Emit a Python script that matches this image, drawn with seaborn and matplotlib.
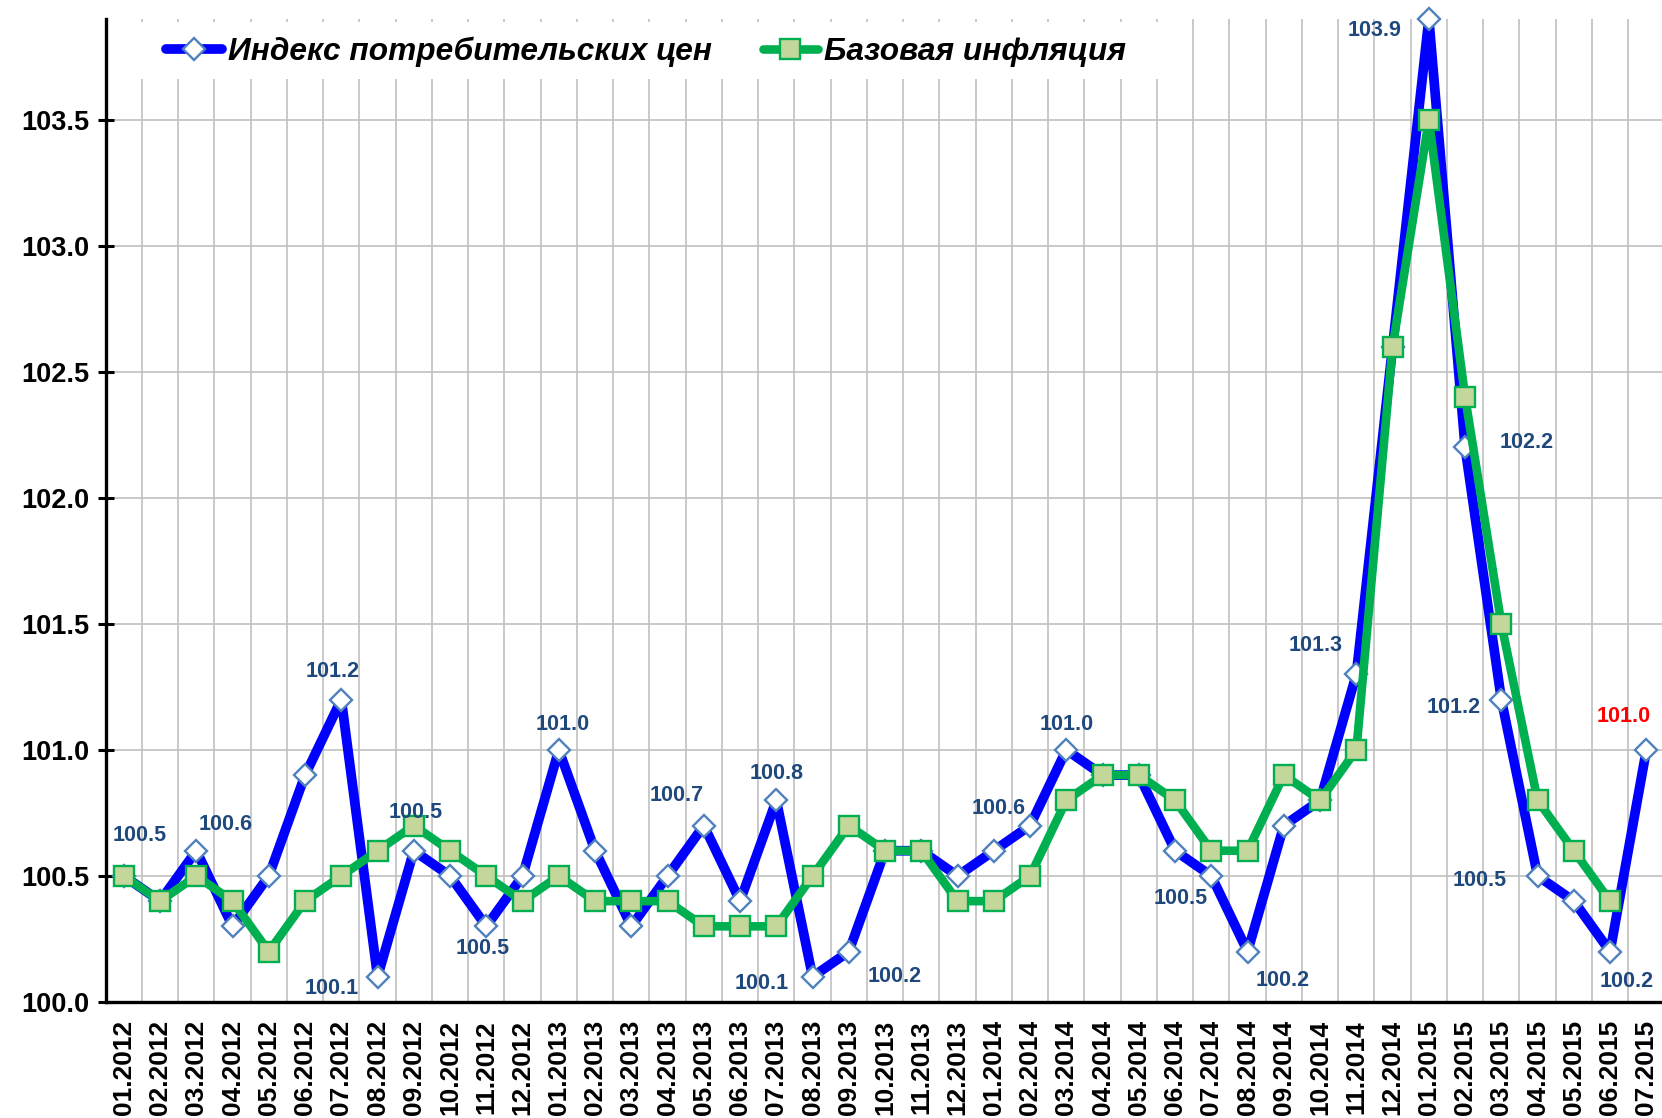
import numpy as np
import pandas as pd
import matplotlib
matplotlib.use("Agg")
import matplotlib.pyplot as plt
from matplotlib.patches import Rectangle
from matplotlib.lines import Line2D
import seaborn as sns

# ---------------- data ----------------
months = ["01.2012", "02.2012", "03.2012", "04.2012", "05.2012", "06.2012", "07.2012",
          "08.2012", "09.2012", "10.2012", "11.2012", "12.2012",
          "01.2013", "02.2013", "03.2013", "04.2013", "05.2013", "06.2013", "07.2013",
          "08.2013", "09.2013", "10.2013", "11.2013", "12.2013",
          "01.2014", "02.2014", "03.2014", "04.2014", "05.2014", "06.2014", "07.2014",
          "08.2014", "09.2014", "10.2014", "11.2014", "12.2014",
          "01.2015", "02.2015", "03.2015", "04.2015", "05.2015", "06.2015", "07.2015"]

cpi = [100.5, 100.4, 100.6, 100.3, 100.5, 100.9, 101.2, 100.1, 100.6, 100.5, 100.3, 100.5,
       101.0, 100.6, 100.3, 100.5, 100.7, 100.4, 100.8, 100.1, 100.2, 100.6, 100.6, 100.5,
       100.6, 100.7, 101.0, 100.9, 100.9, 100.6, 100.5, 100.2, 100.7, 100.8, 101.3, 102.6,
       103.9, 102.2, 101.2, 100.5, 100.4, 100.2, 101.0]

core = [100.5, 100.4, 100.5, 100.4, 100.2, 100.4, 100.5, 100.6, 100.7, 100.6, 100.5, 100.4,
        100.5, 100.4, 100.4, 100.4, 100.3, 100.3, 100.3, 100.5, 100.7, 100.6, 100.6, 100.4,
        100.4, 100.5, 100.8, 100.9, 100.9, 100.8, 100.6, 100.6, 100.9, 100.8, 101.0, 102.6,
        103.5, 102.4, 101.5, 100.8, 100.6, 100.4]

series_names = ["Индекс потребительских цен", "Базовая инфляция"]

# data labels shown on the CPI line (month index, text)
label_idx = [0, 2, 6, 7, 8, 10, 12, 16, 18, 19, 20, 24, 26, 30, 31, 34, 36, 37, 38, 39, 41, 42]
label_txt = ["100.5", "100.6", "101.2", "100.1", "100.5", "100.5", "101.0", "100.7", "100.8",
             "100.1", "100.2", "100.6", "101.0", "100.5", "100.2", "101.3", "103.9", "102.2",
             "101.2", "100.5", "100.2", "101.0"]
# label placement offsets (category units, value units)
label_dx = [0.44, 0.82, -0.25, -1.27, 0.04, -0.11, 0.11, -0.75, 0.01, -1.41, 1.26, 0.12,
            0.02, -0.85, 0.97, -1.13, -1.51, 1.69, -1.31, -1.61, 0.47, -0.62]
label_dy = [0.16, 0.105, 0.11, -0.047, 0.15, -0.086, 0.10, 0.12, 0.106, -0.027, -0.10, 0.167,
            0.10, -0.09, -0.114, 0.115, -0.046, 0.02, -0.032, -0.02, -0.117, 0.134]

yticks = [100.0, 100.5, 101.0, 101.5, 102.0, 102.5, 103.0, 103.5]

# ---------------- style ----------------
sns.set_theme(style="white")
plt.rcParams["font.family"] = ["Liberation Sans", "DejaVu Sans"]

BLUE = "#0000FF"
GREEN = "#00B050"
LBL = "#1F497D"
GRID = "#C0C0C0"

fig = plt.figure(figsize=(16.62, 11.18), dpi=100)
ax = fig.add_axes([0.0636, 0.1038, 0.9379, 0.8792])

x_cpi = np.arange(len(cpi))
x_core = np.arange(len(core))
df_cpi = pd.DataFrame({"x": x_cpi, "y": cpi})
df_core = pd.DataFrame({"x": x_core, "y": core})

blue_kw = dict(color=BLUE, linewidth=7, marker="D", markersize=11.5, markerfacecolor="white",
               markeredgecolor="#4F81BD", markeredgewidth=1.7)
green_kw = dict(color=GREEN, linewidth=6.2, marker="s", markersize=14, markerfacecolor="#C4D79B",
                markeredgecolor=GREEN, markeredgewidth=1.7)

sns.lineplot(data=df_cpi, x="x", y="y", ax=ax, zorder=3, clip_on=False, **blue_kw)
sns.lineplot(data=df_core, x="x", y="y", ax=ax, zorder=4, clip_on=False, **green_kw)

# axes limits and ticks
ax.set_xlim(-0.5, 42.5)
ax.set_ylim(100.0, 103.9)
ax.set_xticks(x_cpi)
ax.set_xticklabels(months, rotation=90, fontsize=19, fontweight="bold", color="black")
ax.set_xticks(np.arange(-0.5, 43, 1), minor=True)
ax.tick_params(axis="x", which="major", length=0, pad=13)
ax.tick_params(axis="x", which="minor", length=6, width=2.0, direction="out", color="black")
ax.set_yticks(yticks)
ax.set_yticklabels([f"{v:.1f}" for v in yticks], fontsize=19.5, fontweight="bold", color="black")
ax.tick_params(axis="y", which="major", length=11, width=2.2, direction="inout",
               color="black", pad=6, left=True)
ax.set_xlabel("")
ax.set_ylabel("")

# grid
ax.grid(False)
ax.grid(which="minor", axis="x", color=GRID, linewidth=1.2, zorder=0)
ax.grid(which="major", axis="y", color=GRID, linewidth=1.2, zorder=0)
ax.set_axisbelow(True)

for s in ["top", "right"]:
    ax.spines[s].set_visible(False)
for s in ["left", "bottom"]:
    ax.spines[s].set_color("black")
    ax.spines[s].set_linewidth(2.4)
    ax.spines[s].set_zorder(5)

# white legend backdrop
ax.add_patch(Rectangle((0.0, 0.939), 0.686, 0.058, transform=ax.transAxes,
                       facecolor="white", edgecolor="none", zorder=1))

# data labels
for i, t, dx, dy in zip(label_idx, label_txt, label_dx, label_dy):
    col = "#FF0000" if i == len(cpi) - 1 else LBL
    ax.text(i + dx, cpi[i] + dy, t, ha="center", va="center", fontsize=15.5,
            fontweight="bold", color=col, zorder=6, clip_on=False)

# legend
handles = [Line2D([], [], **blue_kw), Line2D([], [], **green_kw)]
leg = ax.legend(handles, series_names, loc="center left", bbox_to_anchor=(0.039, 0.967),
                ncol=2, frameon=False, borderpad=0, borderaxespad=0,
                handlelength=1.74, handletextpad=0.2, columnspacing=1.6,
                prop={"size": 22.8, "weight": "bold", "style": "italic"})
for t in leg.get_texts():
    t.set_color("black")
leg.set_zorder(7)

fig.savefig("out.png", dpi=100, facecolor="white")
